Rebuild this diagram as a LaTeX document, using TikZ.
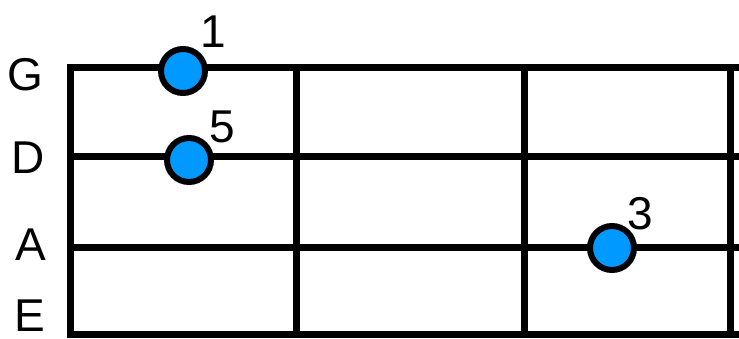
\documentclass[tikz,border=0pt]{standalone}
\usepackage{fontspec}
\setmainfont{Liberation Sans}
\usepackage{tikz}
\usetikzlibrary{positioning}
\definecolor{dotblue}{RGB}{0,153,255}

\begin{document}
\begin{tikzpicture}[x=1pt, y=-1pt, every node/.style={font=\fontsize{46}{50}\selectfont, inner sep=0pt},
    wire/.style={line width=7pt},
    finger/.style={circle, draw=black, line width=6pt, fill=dotblue, minimum size=44pt}]
            \useasboundingbox (0,0) rectangle (739,338);
            \coordinate (g0) at (67,67);   \coordinate (g1) at (739,67);
            \coordinate (d0) at (70,156);  \coordinate (d1) at (739,156);
            \coordinate (a0) at (70,247);  \coordinate (a1) at (739,247);
            \coordinate (e0) at (67,334);  \coordinate (e1) at (739,334);
            \draw[wire] (g0) -- (g1);
            \draw[wire] (d0) -- (d1);
            \draw[wire] (a0) -- (a1);
            \draw[wire] (e0) -- (e1);
            \foreach \x [count=\i] in {70, 296, 524, 730} {
                \draw[wire] (\x,64) coordinate (f\i) -- (\x,338);
            }
            \node (sg) at (25,75) {G};
            \node (sd) at (28,158) {D};
            \node (sa) at (31,245) {A};
            \node (se) at (30,316) {E};
            \node[finger] (p1) at (183,71) {};
            \node[finger] (p5) at (189,160) {};
            \node[finger] (p3) at (612,248) {};
            \node (n1) at (213,32) {1};
            \node (n5) at (222,127) {5};
            \node (n3) at (640,214) {3};
        \end{tikzpicture}
\end{document}
